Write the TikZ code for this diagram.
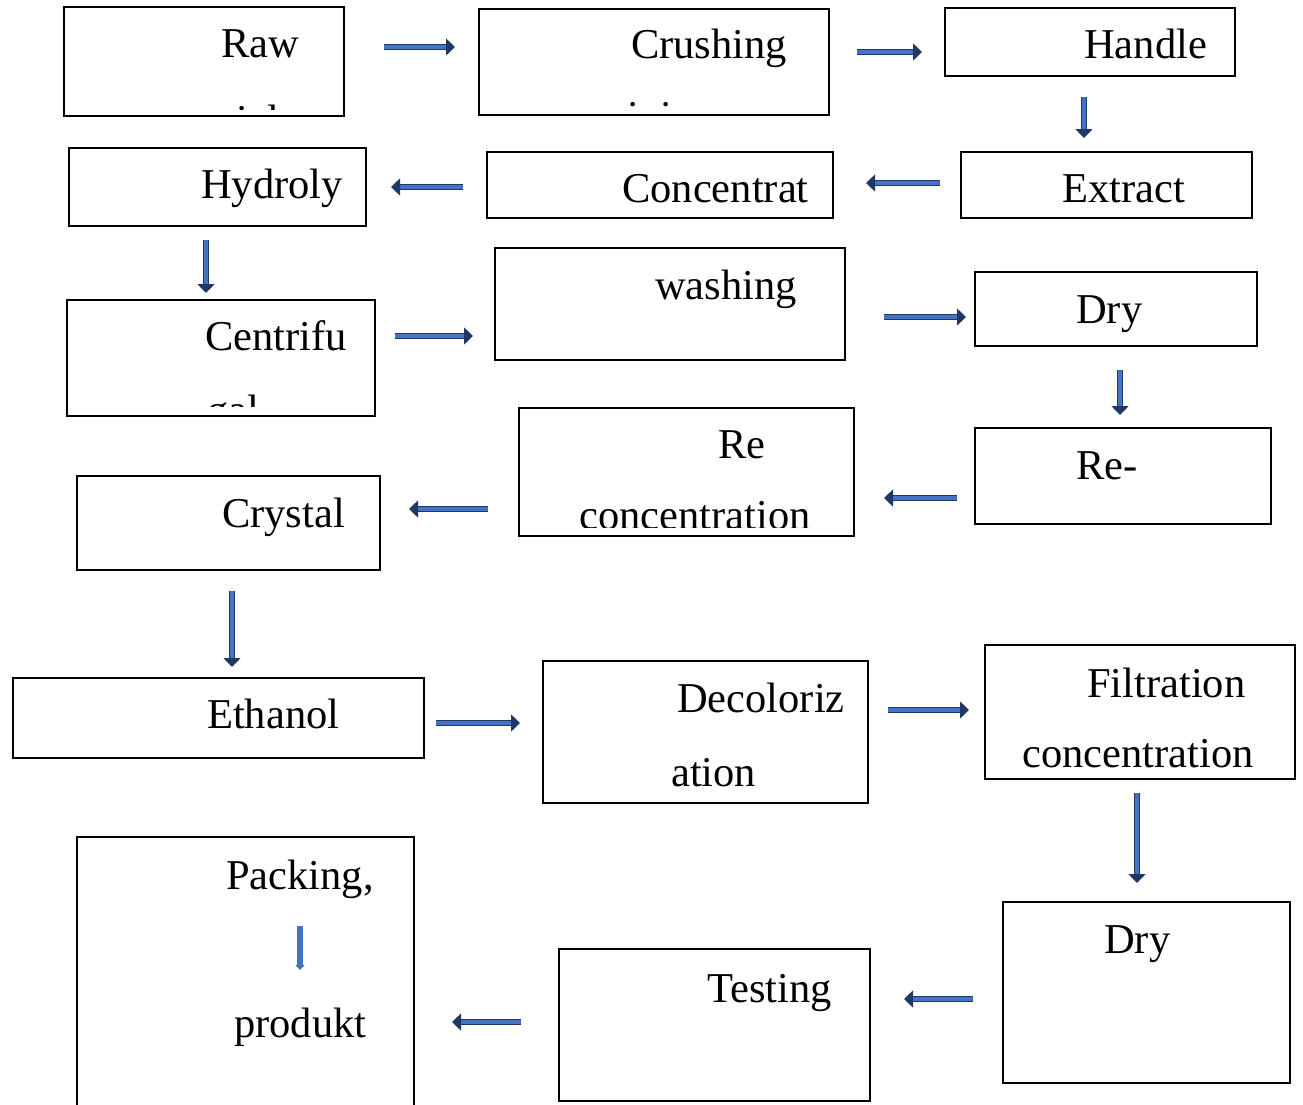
\documentclass[tikz,border=0pt]{standalone}
\usepackage{fontspec}
\setmainfont{Liberation Serif}
\usetikzlibrary{arrows.meta}
\definecolor{arrowdark}{RGB}{31,56,100}
\definecolor{arrowfill}{RGB}{68,114,196}
\tikzset{
  box/.style={draw=black, line width=2pt, inner sep=0pt, rectangle},
  txt/.style={inner sep=0pt, anchor=base west, font=\fontsize{42.5pt}{50pt}\selectfont},
  flow/.style={draw=arrowdark, line width=1.5pt, double=arrowfill, double distance=3.4pt,
    -{Triangle[length=9pt,width=17pt]}},
  smallflow/.style={draw=arrowfill, line width=6pt, -{Triangle[length=5pt,width=9pt]}}
}
\newcommand\mybox[5]{\node[box, minimum width={#4-#2}, minimum height={#5-#3}] (#1) at ({(#2+#4)/2},{(#3+#5)/2}) {};}
\begin{document}
\begin{tikzpicture}[x=1pt,y=-1pt]
\clip (0,0) rectangle (1303,1104);
\fill[white] (0,0) rectangle (1303,1104);
% boxes
\mybox{raw}{64}{7}{344}{116}
\mybox{crush}{479}{9}{829}{115}
\mybox{handle}{945}{8}{1235}{76}
\mybox{extract}{961}{152}{1252}{218}
\mybox{conc}{487}{152}{833}{218}
\mybox{hydro}{69}{148}{366}{226}
\mybox{centri}{67}{300}{375}{416}
\mybox{wash}{495}{248}{845}{360}
\mybox{dryA}{975}{272}{1257}{346}
\mybox{reA}{975}{428}{1271}{524}
\mybox{reconc}{519}{408}{854}{536}
\mybox{crystal}{77}{476}{380}{570}
\mybox{ethanol}{13}{678}{424}{758}
\mybox{decol}{543}{661}{868}{803}
\mybox{filt}{985}{645}{1295}{779}
\mybox{dryB}{1003}{902}{1290}{1083}
\mybox{test}{559}{949}{870}{1101}
\mybox{pack}{77}{837}{414}{1120}
% texts
\node[txt] (t-raw) at (221,57) {Raw};
\begin{scope}\clip (65,8) rectangle (343,109);
\node[txt] (t-raw2) at (140,134) {materials};
\end{scope}
\node[txt] (t-crush) at (631,58) {Crushing};
\begin{scope}\clip (480,10) rectangle (828,106);
\node[txt] (t-crush2) at (594,130) {mixing};
\end{scope}
\node[txt] (t-handle) at (1084,58) {Handle};
\node[txt] (t-hydro) at (201,198) {Hydroly};
\node[txt] (t-conc) at (622,202) {Concentrat};
\node[txt] (t-extract) at (1062,202) {Extract};
\node[txt] (t-centri) at (205,350) {Centrifu};
\begin{scope}\clip (68,301) rectangle (374,406);
\node[txt] (t-centri2) at (207,424) {gal};
\end{scope}
\node[txt] (t-wash) at (655,299) {washing};
\node[txt] (t-dryA) at (1076,323) {Dry};
\node[txt] (t-reA) at (1076,479) {Re-};
\node[txt] (t-reconc) at (718,458) {Re};
\begin{scope}\clip (520,409) rectangle (853,527);
\node[txt] (t-reconc2) at (579,529) {concentration};
\end{scope}
\node[txt] (t-crystal) at (222,527) {Crystal};
\node[txt] (t-ethanol) at (207,728) {Ethanol};
\node[txt] (t-decol) at (677,712) {Decoloriz};
\node[txt] (t-decol2) at (671,786) {ation};
\node[txt] (t-filt) at (1087,697) {Filtration};
\node[txt] (t-filt2) at (1022,767) {concentration};
\node[txt] (t-dryB) at (1104,953) {Dry};
\node[txt] (t-test) at (707,1002) {Testing};
\node[txt] (t-pack) at (226,889) {Packing,};
\node[txt] (t-pack2) at (234,1037) {produkt};
% arrow end points
\coordinate (a1s) at (384,47);   \coordinate (a1e) at (455,47);
\coordinate (a2s) at (857,52);   \coordinate (a2e) at (922,52);
\coordinate (a3s) at (1084,97);  \coordinate (a3e) at (1084,138);
\coordinate (a4s) at (940,183);  \coordinate (a4e) at (866,183);
\coordinate (a5s) at (463,187);  \coordinate (a5e) at (391,187);
\coordinate (a6s) at (206,240);  \coordinate (a6e) at (206,293);
\coordinate (a7s) at (395,336);  \coordinate (a7e) at (473,336);
\coordinate (a8s) at (884,317);  \coordinate (a8e) at (966,317);
\coordinate (a9s) at (1120,370); \coordinate (a9e) at (1120,415);
\coordinate (a10s) at (957,498); \coordinate (a10e) at (884,498);
\coordinate (a11s) at (488,509); \coordinate (a11e) at (409,509);
\coordinate (a12s) at (232,591); \coordinate (a12e) at (232,667);
\coordinate (a13s) at (436,723); \coordinate (a13e) at (520,723);
\coordinate (a14s) at (888,710); \coordinate (a14e) at (969,710);
\coordinate (a15s) at (1137,793);\coordinate (a15e) at (1137,883);
\coordinate (a16s) at (973,999); \coordinate (a16e) at (904,999);
\coordinate (a17s) at (521,1022);\coordinate (a17e) at (452,1022);
\coordinate (a18s) at (300,926); \coordinate (a18e) at (300,970);
% arrows
\foreach \i in {1,...,17} {\draw[flow] (a\i s) -- (a\i e);}
\draw[smallflow] (a18s) -- (a18e);
\end{tikzpicture}
\end{document}
